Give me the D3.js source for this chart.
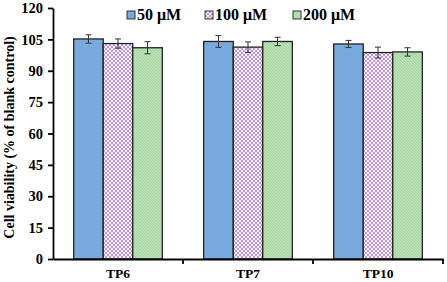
<!DOCTYPE html>
<html>
<head>
<meta charset="utf-8">
<script src="https://cdn.jsdelivr.net/npm/d3@7"></script>
<style>
  body { margin: 0; background: #fff; }
  text { font-family: "Liberation Serif", "Times New Roman", serif; font-weight: bold; }
</style>
</head>
<body>
<svg width="447" height="282"></svg>
<script>
// Data
var groups = ['TP6', 'TP7', 'TP10'];
var series = ['50 μM', '100 μM', '200 μM'];
// values per series, in group order
var v50  = [105.2, 104.0, 102.8];
var v100 = [103.0, 101.3,  98.7];
var v200 = [101.0, 104.0,  99.0];
var e50  = [2.0, 2.8, 1.7];
var e100 = [2.2, 2.5, 2.6];
var e200 = [2.9, 2.0, 2.0];
var yTicks = [0, 15, 30, 45, 60, 75, 90, 105, 120];

var values = [v50, v100, v200];
var errors = [e50, e100, e200];

var svg = d3.select('svg');
var defs = svg.append('defs');

// purple: small checkerboard
var pPurple = defs.append('pattern')
    .attr('id', 'pPurple')
    .attr('patternUnits', 'userSpaceOnUse')
    .attr('width', 4).attr('height', 4);
pPurple.append('rect').attr('width', 4).attr('height', 4).attr('fill', '#f5effa');
pPurple.append('rect').attr('width', 2).attr('height', 2).attr('fill', '#bc98dc');
pPurple.append('rect').attr('x', 2).attr('y', 2).attr('width', 2).attr('height', 2).attr('fill', '#bc98dc');

// green: fine diagonal hatch
var pGreen = defs.append('pattern')
    .attr('id', 'pGreen')
    .attr('patternUnits', 'userSpaceOnUse')
    .attr('width', 3).attr('height', 3);
pGreen.append('rect').attr('width', 3).attr('height', 3).attr('fill', '#acdaa8');
pGreen.append('path').attr('d', 'M0,0 L3,3').attr('stroke', '#c6e6c2').attr('stroke-width', 0.8);

var fills = ['#78aadd', 'url(#pPurple)', 'url(#pGreen)'];

var margin = { left: 53, right: 4, top: 8, bottom: 23 };
var width = 447 - margin.left - margin.right;
var height = 282 - margin.top - margin.bottom;

var g = svg.append('g')
    .attr('transform', 'translate(' + margin.left + ',' + margin.top + ')');

var x0 = d3.scaleBand().domain(groups).range([0, 390]).paddingInner(0).paddingOuter(0);
var x1 = d3.scaleBand().domain(d3.range(series.length))
    .range([0, x0.bandwidth()]).paddingInner(0).paddingOuter(0.7);
var y = d3.scaleLinear().domain([0, 120]).range([height, 0]);

// bars
series.forEach(function(s, si) {
    g.selectAll('.bar' + si)
        .data(groups)
      .enter().append('rect')
        .attr('x', function(d) { return x0(d) + x1(si); })
        .attr('y', function(d, i) { return y(values[si][i]); })
        .attr('width', x1.bandwidth())
        .attr('height', function(d, i) { return height - y(values[si][i]); })
        .attr('fill', fills[si])
        .attr('stroke', '#222')
        .attr('stroke-width', 1.3);
});

// error bars
series.forEach(function(s, si) {
    groups.forEach(function(gr, i) {
        var cx = x0(gr) + x1(si) + x1.bandwidth() / 2;
        var lo = y(values[si][i] - errors[si][i]);
        var hi = y(values[si][i] + errors[si][i]);
        g.append('line').attr('x1', cx).attr('x2', cx).attr('y1', lo).attr('y2', hi)
            .attr('stroke', '#333').attr('stroke-width', 1);
        [lo, hi].forEach(function(yy) {
            g.append('line').attr('x1', cx - 3).attr('x2', cx + 3).attr('y1', yy).attr('y2', yy)
                .attr('stroke', '#333').attr('stroke-width', 1);
        });
    });
});

// y axis
var yAxis = g.append('g')
    .call(d3.axisLeft(y).tickValues(yTicks).tickSize(5).tickSizeOuter(0));
yAxis.select('.domain').attr('stroke', '#000').attr('stroke-width', 1.8);
yAxis.selectAll('.tick line').attr('stroke', '#000').attr('stroke-width', 1.8);
yAxis.selectAll('.tick text')
    .attr('x', -10)
    .style('font-size', '14.5px')
    .style('font-family', '"Liberation Serif", serif')
    .style('font-weight', 'bold')
    .attr('fill', '#000');

// x axis
var xAxis = g.append('g')
    .attr('transform', 'translate(0,' + height + ')')
    .call(d3.axisBottom(x0).tickSize(0).tickSizeOuter(0));
xAxis.select('.domain').attr('stroke', '#000').attr('stroke-width', 1.8);
xAxis.selectAll('.tick text')
    .attr('y', 9)
    .style('font-size', '13.5px')
    .style('font-family', '"Liberation Serif", serif')
    .style('font-weight', 'bold')
    .attr('fill', '#000');
// boundary ticks between categories
g.selectAll('.sep')
    .data(groups)
  .enter().append('line')
    .attr('x1', function(d) { return x0(d) + x0.bandwidth(); })
    .attr('x2', function(d) { return x0(d) + x0.bandwidth(); })
    .attr('y1', height)
    .attr('y2', height + 5)
    .attr('stroke', '#000')
    .attr('stroke-width', 1.8);

// y axis title
svg.append('text')
    .attr('transform', 'translate(14,' + (margin.top + height / 2 + 4) + ') rotate(-90)')
    .style('text-anchor', 'middle')
    .style('font-size', '14px')
    .attr('fill', '#000')
    .text('Cell viability (% of blank control)');

// legend
var legendX = [127, 205, 293];
var legend = svg.selectAll('.legend')
    .data(series)
  .enter().append('g')
    .attr('transform', function(d, i) { return 'translate(' + legendX[i] + ',11)'; });
legend.append('rect')
    .attr('width', 8).attr('height', 8)
    .attr('fill', function(d, i) { return fills[i]; })
    .attr('stroke', '#333').attr('stroke-width', 1);
legend.append('text')
    .attr('x', 10)
    .attr('y', 9)
    .style('font-size', '16px')
    .attr('fill', '#000')
    .text(function(d) { return d; });
</script>
</body>
</html>
